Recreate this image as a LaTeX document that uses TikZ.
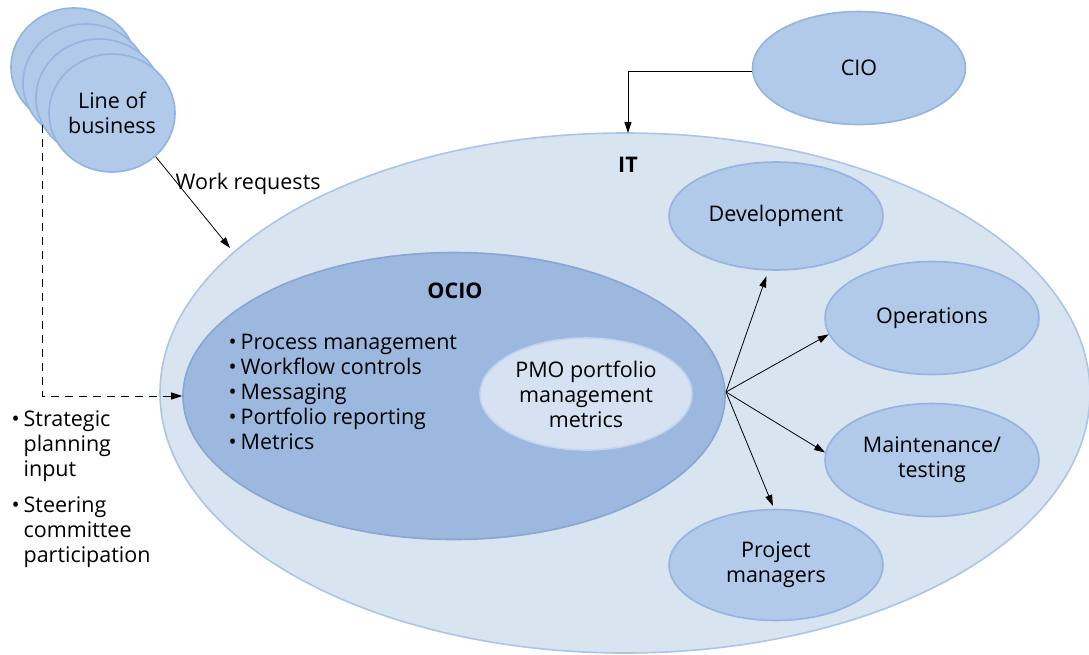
\documentclass[tikz,border=0pt]{standalone}
\usepackage{fontspec}
\setmainfont{Open Sans}
\usetikzlibrary{arrows.meta,shapes.geometric}
\definecolor{itfill}{HTML}{D9E4F1}
\definecolor{itline}{HTML}{AAC5E8}
\definecolor{ociofill}{HTML}{9DB8DF}
\definecolor{ocioline}{HTML}{87A6D2}
\definecolor{unitfill}{HTML}{B1CAEA}
\definecolor{unitline}{HTML}{94B3DE}
\definecolor{pmofill}{HTML}{D6E2F2}
\definecolor{pmoline}{HTML}{C2D4EE}
\newcommand{\dotitem}{\textbullet\hspace{4pt}}
\newcommand{\dotpad}{\phantom{\textbullet}\hspace{4pt}}
\tikzset{
  x=1pt, y=-1pt,
  every node/.style={font=\fontsize{21.5}{25}\selectfont, text=black},
  blob/.style={ellipse, draw=unitline, fill=unitfill, line width=1.6pt, inner sep=0pt, align=center},
  link/.style={-{Triangle[length=11pt,width=7pt]}, line width=0.8pt},
  dlink/.style={link, dash pattern=on 8pt off 6pt},
}
\begin{document}
\begin{tikzpicture}
\useasboundingbox (0,0) rectangle (1089,654);
% IT and OCIO regions
\begin{scope}
\clip (0,0) rectangle (1089,654);
\node[ellipse, draw=itline, fill=itfill, line width=1.6pt, minimum width=930pt, minimum height=520pt] (it) at (625,393) {};
\end{scope}
\node[font=\fontsize{21.5}{25}\selectfont\bfseries] (itl) at (628,165) {IT};
\node[ellipse, draw=ocioline, fill=ociofill, line width=1.6pt, minimum width=542pt, minimum height=287pt] (ocio) at (454,396) {};
\node[font=\fontsize{21.5}{25}\selectfont\bfseries] (ociol) at (455,291) {OCIO};
\node[anchor=north west, align=left] (list) at (225,331) {\dotitem Process management\\ \dotitem Workflow controls\\ \dotitem Messaging\\ \dotitem Portfolio reporting\\ \dotitem Metrics};
\node[ellipse, draw=pmoline, fill=pmofill, line width=1.6pt, minimum width=212pt, minimum height=112pt, align=center, inner sep=0pt] (pmo) at (586,394) {PMO portfolio\\management\\metrics};
% units
\node[blob, minimum width=214pt, minimum height=108pt] (dev) at (776,216) {Development};
\node[blob, minimum width=214pt, minimum height=113pt] (ops) at (932,318) {Operations};
\node[blob, minimum width=214pt, minimum height=113pt] (mnt) at (932,460) {Maintenance/\\testing};
\node[blob, minimum width=214pt, minimum height=111pt] (pm) at (776,565) {Project\\managers};
\node[blob, minimum width=213pt, minimum height=113pt] (cio) at (859,68) {CIO};
% lines of business stack
\node[blob, minimum width=126pt, minimum height=118pt] (lob1) at (74,67) {};
\node[blob, minimum width=126pt, minimum height=118pt] (lob2) at (86,83) {};
\node[blob, minimum width=126pt, minimum height=118pt] (lob3) at (99,98) {};
\node[blob, minimum width=126pt, minimum height=118pt] (lob) at (112,113) {Line of\\business};
% connectors
\coordinate (hub) at (726,392);
\draw[link, shorten >=6pt] (hub) -- (dev.262);
\draw[link] (hub) -- (ops.189);
\draw[link] (hub) -- (mnt.176);
\draw[link, shorten >=3pt] (hub) -- (pm.92);
\coordinate (itTop) at (628,133);
\draw[link] (cio.west |- 0,71) -| (itTop);
\coordinate (wr) at (230,248);
\draw[link] (lob.-45) -- (wr);
\node[anchor=west] (wrl) at (172,184) {Work requests};
\coordinate (dl) at (42,125);
\draw[dlink] (dl) |- (ocio.west);
% stakeholder inputs
\node[anchor=north west, align=left] (inp) at (8,407) {\dotitem Strategic\\ \dotpad planning\\ \dotpad input};
\node[anchor=north west, align=left] (stc) at (8,493) {\dotitem Steering\\ \dotpad committee\\ \dotpad participation};
\end{tikzpicture}
\end{document}
